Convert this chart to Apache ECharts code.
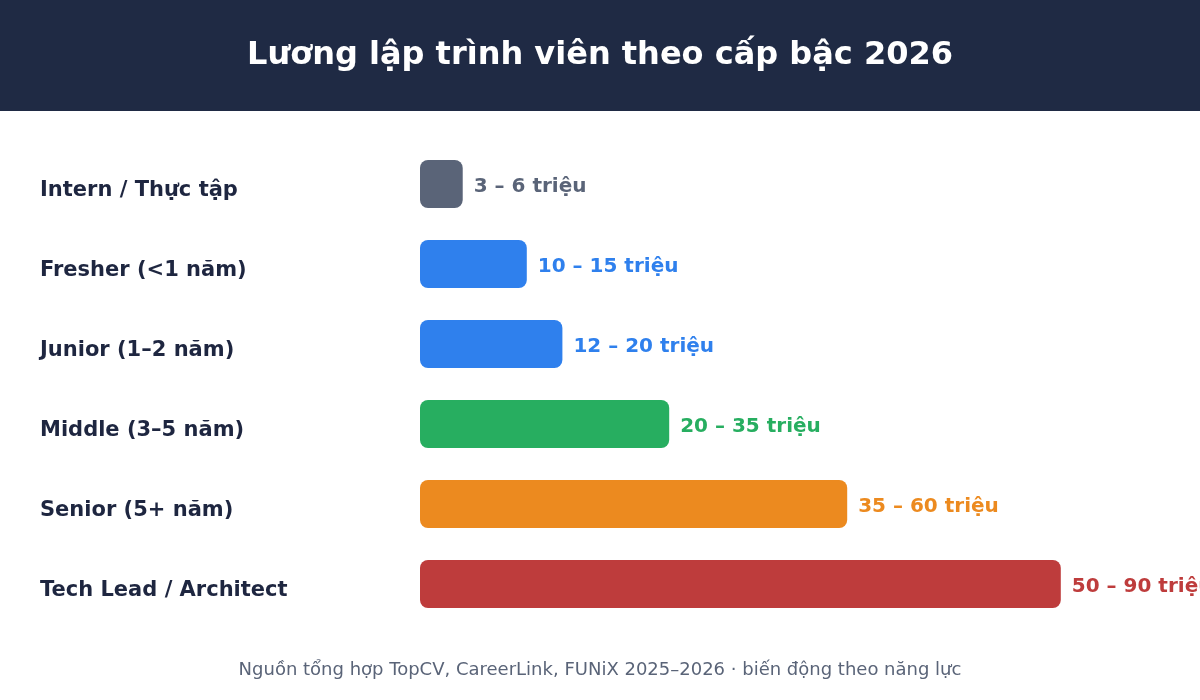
<!DOCTYPE html>
<html><head><meta charset="utf-8">
<script src="https://cdn.jsdelivr.net/npm/echarts@6/dist/echarts.min.js"></script>
<style>html,body{margin:0;padding:0;background:#fff}#c{width:1200px;height:700px}</style>
</head><body><div id="c"></div>
<script>
const categories = ['Intern / Thực tập','Fresher (<1 năm)','Junior (1–2 năm)','Middle (3–5 năm)','Senior (5+ năm)','Tech Lead / Architect'];
const lowValues = [3, 10, 12, 20, 35, 50];
const highValues = [6, 15, 20, 35, 60, 90];
const colors = ['#5a6478','#2f80ed','#2f80ed','#27ae60','#ec8a1f','#be3c3c'];
const unit = 'triệu';

const chart = echarts.init(document.getElementById('c'));
const FONT = '"DejaVu Sans", Verdana, sans-serif';
chart.setOption({
  animation: false,
  textStyle: {fontFamily: FONT},
  graphic: [
    {type:'rect', left:0, top:0, shape:{width:1200, height:111}, style:{fill:'#1f2a44'}, z:0},
    {type:'text', left:'center', top:40, style:{text:'Lương lập trình viên theo cấp bậc 2026', fill:'#ffffff', fontFamily:FONT, fontWeight:'bold', fontSize:32}},
    {type:'text', left:'center', top:661, style:{text:'Nguồn tổng hợp TopCV, CareerLink, FUNiX 2025–2026 · biến động theo năng lực', fill:'#5a6478', fontFamily:FONT, fontSize:18}}
  ],
  grid: {left:420, width:712, top:144, height:480, containLabel:false},
  xAxis: {type:'value', min:0, max:100, show:false},
  yAxis: {
    type:'category', data:categories, inverse:true,
    axisLine:{show:false}, axisTick:{show:false}, splitLine:{show:false},
    axisLabel:{align:'left', margin:380, color:'#1e2640', fontWeight:'bold', fontSize:21, fontFamily:FONT,
      formatter:v=>'{a|'+v+'}', rich:{a:{fontWeight:'bold', fontSize:21, fontFamily:FONT, color:'#1e2640', padding:[14,0,0,0]}}}
  },
  series: [{
    type:'bar', barWidth:48,
    data: highValues.map((v,i)=>({value:v, itemStyle:{color:colors[i], borderRadius:8},
      label:{color:colors[i]}})),
    label:{show:true, position:'right', distance:11, fontWeight:'bold', fontSize:20, fontFamily:FONT, offset:[0,3],
      formatter:p=>lowValues[p.dataIndex]+' – '+highValues[p.dataIndex]+' '+unit}
  }]
});
</script></body></html>
